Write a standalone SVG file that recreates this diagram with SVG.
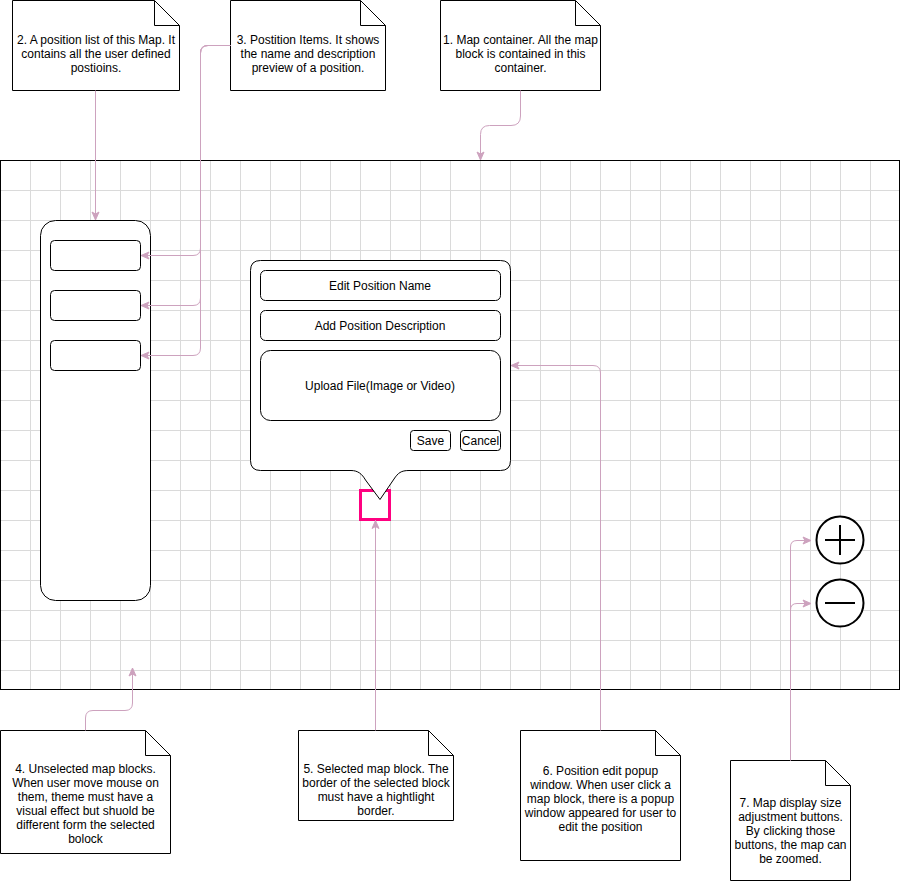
<svg xmlns="http://www.w3.org/2000/svg" width="901" height="881" viewBox="0 0 901 881">
<style>
  .note { fill: #ffffff; stroke: #000000; stroke-width: 1; }
  .fold { fill: none; stroke: #000000; stroke-width: 1; }
  .box { fill: #ffffff; stroke: #000000; stroke-width: 1; }
  .t { font-family: "Liberation Sans", Arial, sans-serif; font-size: 12px; fill: #000000; text-anchor: middle; }
  .conn { fill: none; stroke: #CDA2BE; stroke-width: 1; }
  .grid { fill: none; stroke: #dadada; stroke-width: 1; }
  .btn { fill: #ffffff; stroke: #000000; stroke-width: 2; }
</style>
<defs>
  <marker id="arr" markerUnits="userSpaceOnUse" markerWidth="10" markerHeight="10" viewBox="0 0 10 10" refX="9" refY="5" orient="auto">
    <path d="M1,1.5 L9,5 L1,8.5 L3,5 Z" fill="#CDA2BE" stroke="#CDA2BE" stroke-width="1"/>
  </marker>
</defs>
<rect x="0" y="0" width="901" height="881" fill="#ffffff"/>

<g id="map-container">
  <rect x="0.5" y="160.5" width="899" height="529" fill="#ffffff"/>
  <path class="grid" d="M30.5,161V690M60.5,161V690M90.5,161V690M120.5,161V690M150.5,161V690M180.5,161V690M210.5,161V690M240.5,161V690M270.5,161V690M300.5,161V690M330.5,161V690M360.5,161V690M390.5,161V690M420.5,161V690M450.5,161V690M480.5,161V690M510.5,161V690M540.5,161V690M570.5,161V690M600.5,161V690M630.5,161V690M660.5,161V690M690.5,161V690M720.5,161V690M750.5,161V690M780.5,161V690M810.5,161V690M840.5,161V690M870.5,161V690M1,190.5H900M1,220.5H900M1,250.5H900M1,280.5H900M1,310.5H900M1,340.5H900M1,370.5H900M1,400.5H900M1,430.5H900M1,460.5H900M1,490.5H900M1,520.5H900M1,550.5H900M1,580.5H900M1,610.5H900M1,640.5H900M1,670.5H900"/>
  <rect x="0.5" y="160.5" width="899" height="529" fill="none" stroke="#000000" stroke-width="1"/>
</g>

<g id="position-list">
  <rect class="box" x="40.5" y="220.5" width="110" height="380" rx="15" ry="15"/>
</g>
<g id="position-item-1"><rect class="box" x="50.5" y="240.5" width="90" height="30" rx="4" ry="4"/></g>
<g id="position-item-2"><rect class="box" x="50.5" y="290.5" width="90" height="30" rx="4" ry="4"/></g>
<g id="position-item-3"><rect class="box" x="50.5" y="340.5" width="90" height="30" rx="4" ry="4"/></g>

<g id="selected-block">
  <rect x="360.5" y="490.5" width="29" height="29" fill="none" stroke="#FF0080" stroke-width="3"/>
</g>

<g id="popup">
  <path class="box" d="M260.5,260.5 H500.5 Q510.5,260.5 510.5,270.5 V460.5 Q510.5,470.5 500.5,470.5 H409 C401,470.5 398,473 394,479 L380,499.5 L365.5,480 C362,474 358,470.5 351,470.5 H260.5 Q250.5,470.5 250.5,460.5 V270.5 Q250.5,260.5 260.5,260.5 Z"/>
  <rect class="box" x="260.5" y="270.5" width="240" height="30" rx="5" ry="5"/>
  <text class="t" x="380" y="289.5">Edit Position Name</text>
  <rect class="box" x="260.5" y="310.5" width="240" height="30" rx="5" ry="5"/>
  <text class="t" x="380" y="329.5">Add Position Description</text>
  <rect class="box" x="260.5" y="350.5" width="240" height="70" rx="10" ry="10"/>
  <text class="t" x="380" y="389.5">Upload File(Image or Video)</text>
  <rect class="box" x="410.5" y="430.5" width="40" height="20" rx="3" ry="3"/>
  <text class="t" x="430.5" y="444.5">Save</text>
  <rect class="box" x="460.5" y="430.5" width="40" height="20" rx="3" ry="3"/>
  <text class="t" x="480.5" y="444.5">Cancel</text>
</g>

<g id="zoom-in">
  <circle class="btn" cx="840" cy="540" r="23.5"/>
  <path d="M825,540H855M840,525V555" stroke="#000000" stroke-width="2" fill="none"/>
</g>
<g id="zoom-out">
  <circle class="btn" cx="840" cy="603" r="23.5"/>
  <path d="M825,603H855" stroke="#000000" stroke-width="2" fill="none"/>
</g>

<g id="note-2">
  <path class="note" d="M12.5,0.5 H154.5 L179.5,25.5 V90.5 H12.5 Z"/>
  <path class="fold" d="M154.5,0.5 V25.5 H179.5"/>
  <text class="t" x="96" y="43.5">2. A position list of this Map. It</text>
  <text class="t" x="96" y="57.5">contains all the user defined</text>
  <text class="t" x="96" y="71.5">postioins.</text>
</g>
<g id="note-3">
  <path class="note" d="M230.5,0.5 H360.5 L385.5,25.5 V90.5 H230.5 Z"/>
  <path class="fold" d="M360.5,0.5 V25.5 H385.5"/>
  <text class="t" x="308" y="43.5">3. Postition Items. It shows</text>
  <text class="t" x="308" y="57.5">the name and description</text>
  <text class="t" x="308" y="71.5">preview of a position.</text>
</g>
<g id="note-1">
  <path class="note" d="M440.5,0.5 H575.5 L600.5,25.5 V90.5 H440.5 Z"/>
  <path class="fold" d="M575.5,0.5 V25.5 H600.5"/>
  <text class="t" x="520.5" y="43.5">1. Map container. All the map</text>
  <text class="t" x="520.5" y="57.5">block is contained in this</text>
  <text class="t" x="520.5" y="71.5">container.</text>
</g>
<g id="note-4">
  <path class="note" d="M0.5,730.5 H145.5 L170.5,755.5 V853.5 H0.5 Z"/>
  <path class="fold" d="M145.5,730.5 V755.5 H170.5"/>
  <text class="t" x="85.5" y="772.5">4. Unselected map blocks.</text>
  <text class="t" x="85.5" y="786.5">When user move mouse on</text>
  <text class="t" x="85.5" y="800.5">them, theme must have a</text>
  <text class="t" x="85.5" y="814.5">visual effect but shuold be</text>
  <text class="t" x="85.5" y="828.5">different form the selected</text>
  <text class="t" x="85.5" y="842.5">bolock</text>
</g>
<g id="note-5">
  <path class="note" d="M298.5,730.5 H428.5 L453.5,755.5 V820.5 H298.5 Z"/>
  <path class="fold" d="M428.5,730.5 V755.5 H453.5"/>
  <text class="t" x="376" y="772.5">5. Selected map block. The</text>
  <text class="t" x="376" y="786.5">border of the selected block</text>
  <text class="t" x="376" y="800.5">must have a hightlight</text>
  <text class="t" x="376" y="814.5">border.</text>
</g>
<g id="note-6">
  <path class="note" d="M520.5,730.5 H655.5 L680.5,755.5 V860.5 H520.5 Z"/>
  <path class="fold" d="M655.5,730.5 V755.5 H680.5"/>
  <text class="t" x="600.5" y="774.5">6. Position edit popup</text>
  <text class="t" x="600.5" y="788.5">window. When user click a</text>
  <text class="t" x="600.5" y="802.5">map block, there is a popup</text>
  <text class="t" x="600.5" y="816.5">window appeared for user to</text>
  <text class="t" x="600.5" y="830.5">edit the position</text>
</g>
<g id="note-7">
  <path class="note" d="M730.5,760.5 H825.5 L850.5,785.5 V880.5 H730.5 Z"/>
  <path class="fold" d="M825.5,760.5 V785.5 H850.5"/>
  <text class="t" x="790.5" y="807">7. Map display size</text>
  <text class="t" x="790.5" y="821">adjustment buttons.</text>
  <text class="t" x="790.5" y="835">By clicking those</text>
  <text class="t" x="790.5" y="849">buttons, the map can</text>
  <text class="t" x="790.5" y="863">be zoomed.</text>
</g>

<g id="connectors">
  <path class="conn" marker-end="url(#arr)" d="M520.5,90.5 V116 Q520.5,125.5 511,125.5 H489.5 Q480.5,125.5 480.5,134.5 V160"/>
  <path class="conn" marker-end="url(#arr)" d="M95.5,90.5 V220"/>
  <path class="conn" marker-end="url(#arr)" d="M230.5,45.5 H208 Q200.5,45.5 200.5,53 V248 Q200.5,255.5 193,255.5 H141"/>
  <path class="conn" marker-end="url(#arr)" d="M230.5,45.5 H208 Q200.5,45.5 200.5,53 V298 Q200.5,305.5 193,305.5 H141"/>
  <path class="conn" marker-end="url(#arr)" d="M230.5,45.5 H208 Q200.5,45.5 200.5,53 V348 Q200.5,355.5 193,355.5 H141"/>
  <path class="conn" marker-end="url(#arr)" d="M85.5,730.5 V718 Q85.5,710.5 93,710.5 H125 Q132.5,710.5 132.5,703 V668"/>
  <path class="conn" marker-end="url(#arr)" d="M375.5,730.5 V520.5"/>
  <path class="conn" marker-end="url(#arr)" d="M600.5,730.5 V373 Q600.5,365.5 593,365.5 H511"/>
  <path class="conn" marker-end="url(#arr)" d="M790.5,760.5 V547 Q790.5,540.5 797,540.5 H811"/>
  <path class="conn" marker-end="url(#arr)" d="M790.5,760.5 V610 Q790.5,603.5 797,603.5 H811"/>
</g>
</svg>
